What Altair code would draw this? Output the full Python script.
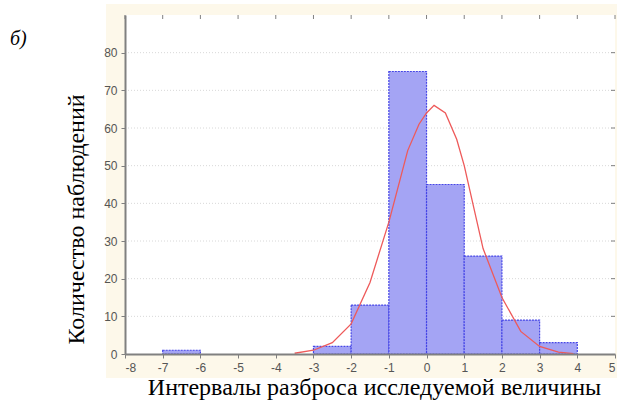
import altair as alt
import pandas as pd

# Histogram bins
bin_start = [-7, -3, -2, -1, 0, 1, 2, 3]
bin_end = [-6, -2, -1, 0, 1, 2, 3, 4]
counts = [1, 2, 13, 75, 45, 26, 9, 3]

# Fitted normal curve
curve_x = [-3.5, -3, -2.5, -2, -1.5, -1, -0.5, -0.2, 0, 0.2, 0.5, 0.8, 1, 1.5, 2, 2.5, 3, 3.5, 3.9]
curve_y = [0.2, 1, 3, 8, 19, 35, 54, 61, 64, 66, 64, 57, 50, 28, 15, 6, 2, 0.5, 0.1]

x_ticks = list(range(-8, 6))
y_ticks = list(range(0, 90, 10))

bars = pd.DataFrame({"x0": bin_start, "x1": bin_end, "n": counts})
curve = pd.DataFrame({"x": curve_x, "y": curve_y})
grid = pd.DataFrame({"g": y_ticks[1:]})
xt = pd.DataFrame({"t": x_ticks})

W, H = 490, 339

xscale = alt.Scale(domain=[-8, 5], nice=False, zero=False)
yscale = alt.Scale(domain=[0, 90], nice=False)

common = dict(labelFont="Liberation Sans", labelFontSize=12, labelColor="#555",
              labelPadding=4, labelOverlap=False, labelExpr="'' + datum.value",
              domainColor="#808080", domainWidth=2,
              tickColor="#808080", tickSize=4, grid=False, zindex=2,
              titleFont="Liberation Serif", titleFontSize=24, titleFontWeight="normal",
              titleColor="black")

x_axis = alt.Axis(values=x_ticks, title="Интервалы разброса исследуемой величины",
                  titleX=249, titleY=40, titleBaseline="alphabetic", **common)
y_axis = alt.Axis(values=y_ticks, title="Количество наблюдений",
                  titleX=-49, titleY=204, titleAngle=-90,
                  titleBaseline="middle", titleAlign="center", **common)

bg = alt.Chart(pd.DataFrame({"a": [0]})).mark_rect(color="#fdf8ea").encode(
    x=alt.value(-19), x2=alt.value(W + 10), y=alt.value(-11), y2=alt.value(H + 24)
)

frame = alt.Chart(pd.DataFrame({"a": [0]})).mark_rect(color="white").encode(
    x=alt.value(0), x2=alt.value(W), y=alt.value(0), y2=alt.value(H)
)

gridlines = alt.Chart(grid).mark_rule(color="#d8d8d8", strokeDash=[1, 2], strokeWidth=1).encode(
    y=alt.Y("g:Q", scale=yscale, axis=y_axis)
)

top_ticks = alt.Chart(xt).mark_rule(color="#808080", strokeWidth=1).encode(
    x=alt.X("t:Q", scale=xscale, axis=x_axis), y=alt.value(0), y2=alt.value(4)
)
right_ticks = alt.Chart(grid).mark_rule(color="#808080", strokeWidth=1).encode(
    y=alt.Y("g:Q", scale=yscale, axis=y_axis), x=alt.value(W - 4), x2=alt.value(W)
)

rects = alt.Chart(bars).mark_rect(
    fill="#a4a4f4", stroke="#4646e6", strokeWidth=1.2, strokeDash=[2, 1]
).encode(
    x=alt.X("x0:Q", scale=xscale, axis=x_axis),
    x2="x1:Q",
    y=alt.Y("n:Q", scale=yscale, axis=y_axis),
    y2=alt.datum(0),
)

line = alt.Chart(curve).mark_line(color="#ee5a5a", strokeWidth=1.3).encode(
    x=alt.X("x:Q", scale=xscale, axis=x_axis),
    y=alt.Y("y:Q", scale=yscale, axis=y_axis),
)

label = alt.Chart(pd.DataFrame({"t": ["б)"]})).mark_text(
    font="Liberation Serif", fontSize=20, fontStyle="italic", color="black",
    align="left", baseline="middle"
).encode(x=alt.value(-115), y=alt.value(24), text="t:N")

chart = alt.layer(bg, frame, gridlines, top_ticks, right_ticks, rects, line, label).properties(
    width=W, height=H,
    padding={"left": 125, "top": 15, "right": 2, "bottom": 52},
    autosize=alt.AutoSizeParams(type="none"),
).configure_view(stroke="#9a9a9a", strokeWidth=1).configure(background="white")

chart.save("out.html", embed_options={"renderer": "svg", "actions": False})
